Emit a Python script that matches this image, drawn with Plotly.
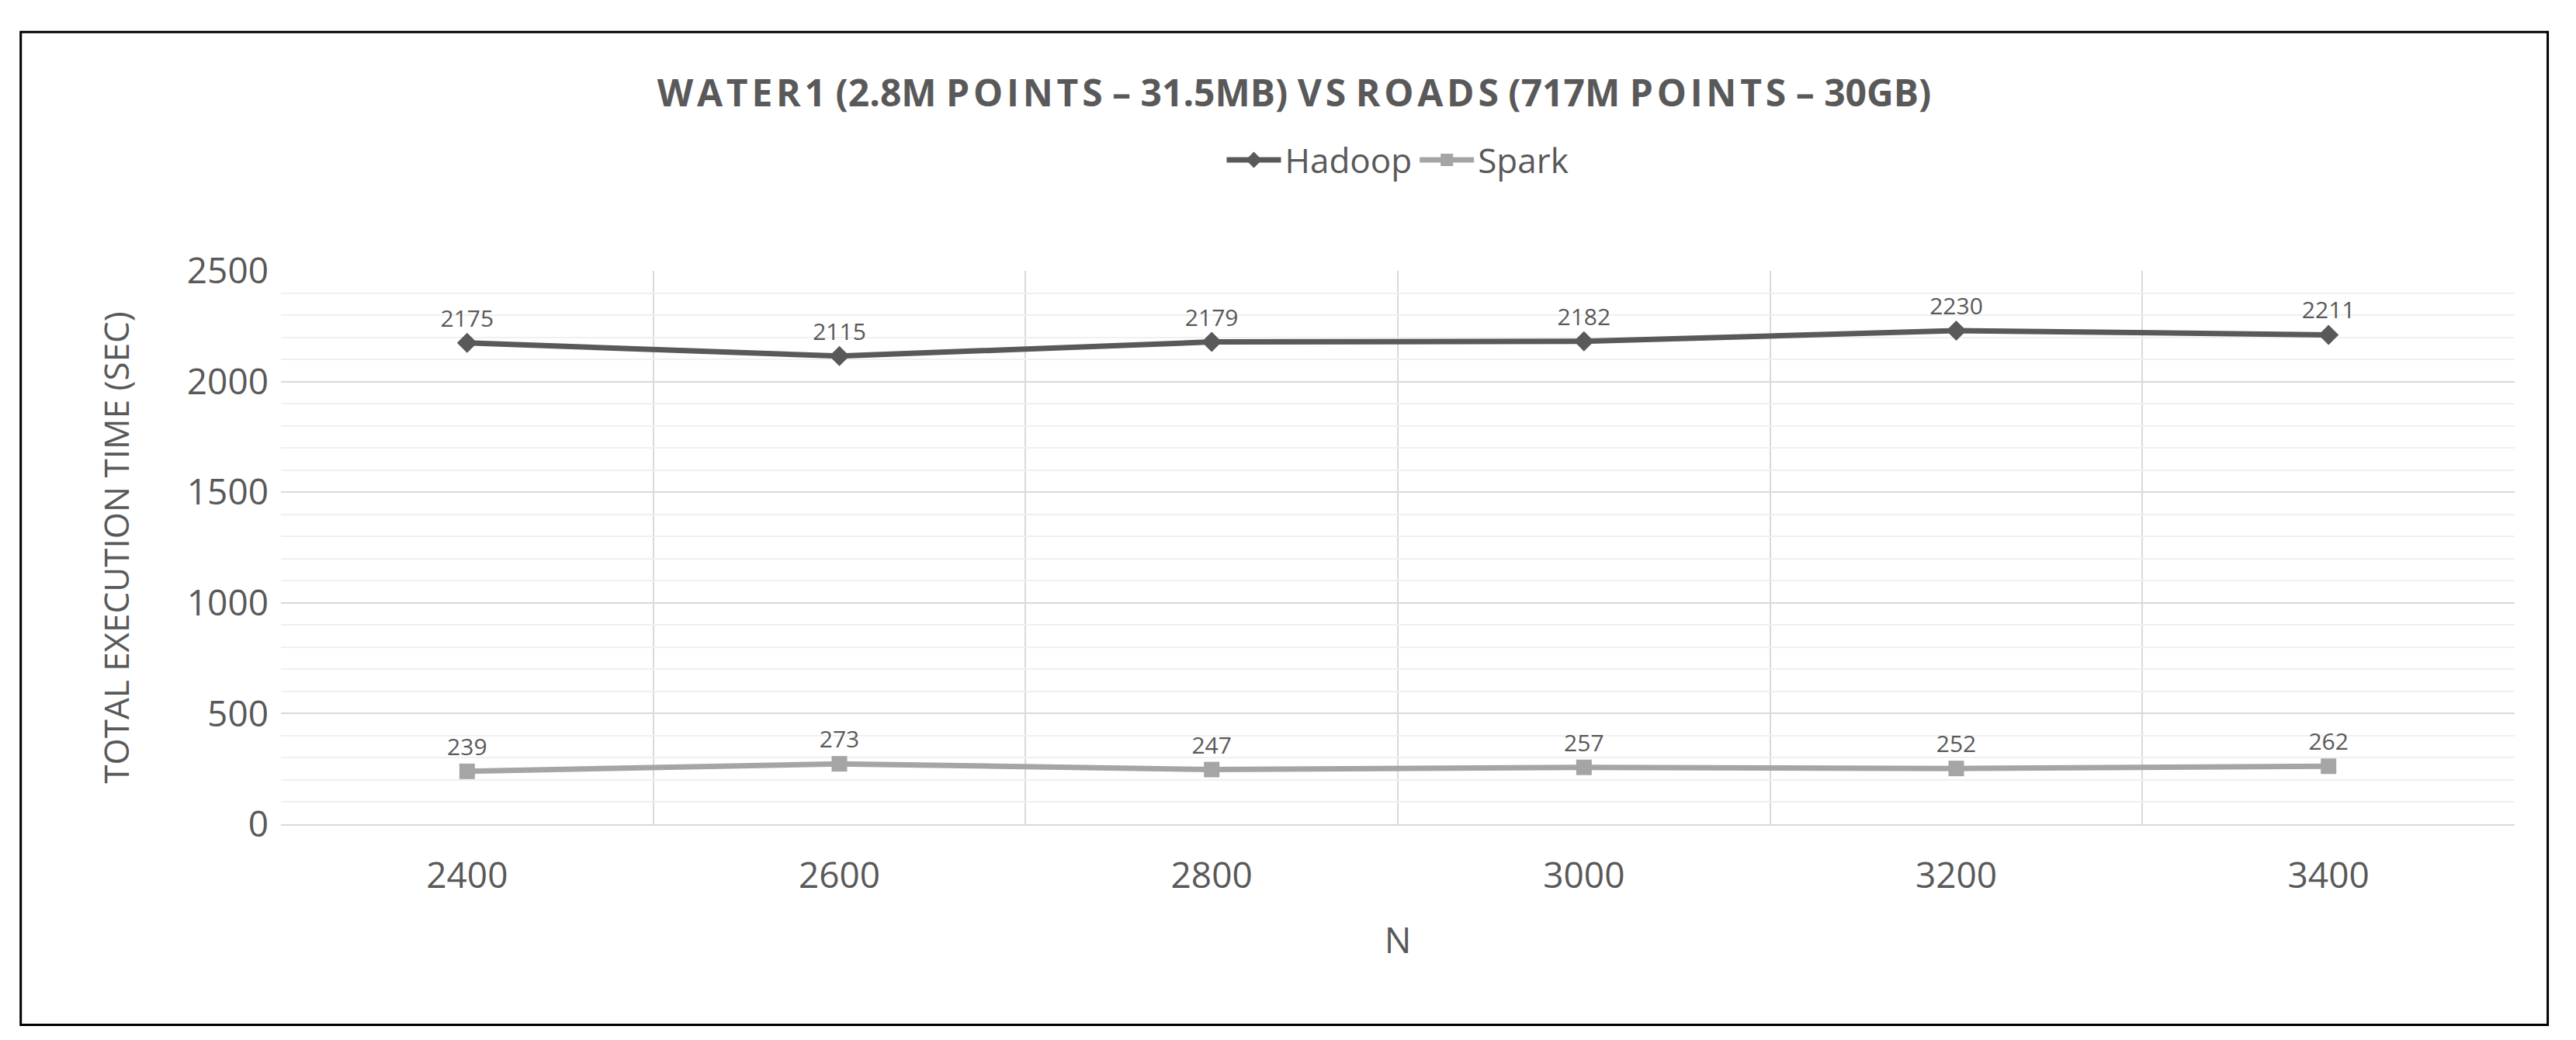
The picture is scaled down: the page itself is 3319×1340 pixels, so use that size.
import plotly.graph_objects as go

categories = ["2400", "2600", "2800", "3000", "3200", "3400"]
hadoop = [2175, 2115, 2179, 2182, 2230, 2211]
spark = [239, 273, 247, 257, 252, 262]
xpos = list(range(len(categories)))

fig = go.Figure()
fig.add_trace(go.Scatter(x=xpos, y=hadoop, name="Hadoop", mode="lines+markers+text",
    line=dict(color="#595959", width=7), marker=dict(symbol="diamond", size=20, color="#595959"),
    text=[str(v) for v in hadoop], textposition="top center",
    textfont=dict(size=30, color="#595959")))
fig.add_trace(go.Scatter(x=xpos, y=spark, name="Spark", mode="lines+markers+text",
    line=dict(color="#A5A5A5", width=7), marker=dict(symbol="square", size=20, color="#A5A5A5"),
    text=[str(v) for v in spark], textposition="top center",
    textfont=dict(size=30, color="#595959")))

fig.update_layout(
    width=3319, height=1340, paper_bgcolor="white", plot_bgcolor="white",
    font=dict(family="Open Sans", color="#595959"),
    margin=dict(l=354, r=87, t=341, b=286),
    title=dict(text="<b>W A T E R 1  (2.8M  P O I N T S  –  31.5MB)  V S  R O A D S  (717M  P O I N T S  –  30GB)</b>".replace(" ", "\u200a").replace("\u200a\u200a", " "),
               x=0.5, xanchor="center", y=0.916, yanchor="middle",
               font=dict(size=48, color="#595959")),
    legend=dict(orientation="h", x=0.5, xanchor="center", y=1.2, yanchor="middle",
                font=dict(size=44, color="#595959"), itemwidth=70, tracegroupgap=40),
    showlegend=True,
    shapes=[dict(type="rect", xref="paper", yref="paper", x0=-0.1165, x1=1.0148,
                 y0=-0.3625, y1=1.4315, line=dict(color="black", width=3))],
)
fig.update_xaxes(range=[-0.5, 5.5], tickvals=xpos, ticktext=categories, showgrid=False,
    tickfont=dict(size=46), title=dict(text="N", font=dict(size=46), standoff=40),
    ticklabelstandoff=25,
    showline=True, linecolor="#D9D9D9", linewidth=2, zeroline=False, ticks="",
    minor=dict(tickvals=[-0.5, 0.5, 1.5, 2.5, 3.5, 4.5, 5.5], showgrid=True,
               gridcolor="#D9D9D9", gridwidth=2, ticks=""))
fig.update_yaxes(range=[0, 2500], dtick=500, showgrid=True, gridcolor="#D9D9D9", gridwidth=2,
    tickfont=dict(size=46), title=dict(text="TOTAL EXECUTION TIME (SEC)", font=dict(size=44), standoff=60),
    ticklabelstandoff=15,
    zeroline=False, showline=False,
    minor=dict(dtick=100, showgrid=True, gridcolor="#F0F0F0", gridwidth=2))
fig.write_html("out.html")
